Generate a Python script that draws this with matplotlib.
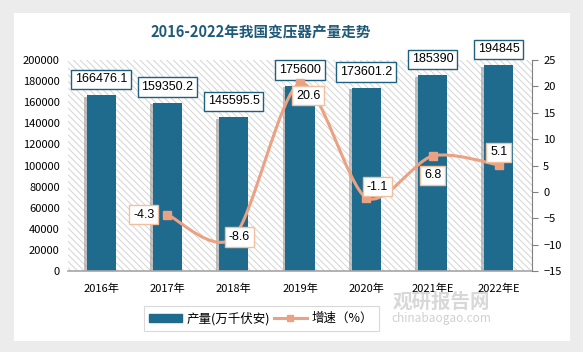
import matplotlib.pyplot as plt
import matplotlib.patheffects as pe
from matplotlib.path import Path
from matplotlib.patches import PathPatch, Rectangle
import numpy as np

plt.rcParams['font.family'] = ['Noto Sans CJK SC', 'DejaVu Sans']
plt.rcParams['hatch.linewidth'] = 0.7

years = ['2016年', '2017年', '2018年', '2019年', '2020年', '2021年E', '2022年E']
output = [166476.1, 159350.2, 145595.5, 175600, 173601.2, 185390, 194845]
output_labels = ['166476.1', '159350.2', '145595.5', '175600', '173601.2', '185390', '194845']
growth_idx = [1, 2, 3, 4, 5, 6]
growth = [-4.3, -8.6, 20.6, -1.1, 6.8, 5.1]

bar_color = '#1e6b8d'
line_color = '#eba283'

fig = plt.figure(figsize=(5.83, 3.52), dpi=100)
fig.patch.set_facecolor('#ececec')
# white card
fig.patches.append(Rectangle((14 / 583, 1 - 341 / 352), 556 / 583, 328 / 352,
                             transform=fig.transFigure, facecolor='white',
                             edgecolor='none', zorder=-5))

ax = fig.add_axes([68 / 583, 1 - 271 / 352, 464 / 583, 211 / 352])
ax.set_facecolor('white')
ax.add_patch(Rectangle((0, 0), 1, 1, transform=ax.transAxes, facecolor='none',
                       edgecolor='#d4d4d4', linewidth=0, hatch='\\\\\\\\\\', zorder=0))

x = np.arange(len(years))
bars = ax.bar(x, output, width=0.44, color=bar_color, zorder=2,
              path_effects=[pe.SimplePatchShadow(offset=(-2, -1), shadow_rgbFace='#909090', alpha=0.55),
                            pe.Normal()])
ax.set_xlim(-0.5, len(years) - 0.5)
ax.set_ylim(0, 200000)
ax.set_yticks(np.arange(0, 200001, 20000))
ax.set_xticks(x)
ax.set_xticklabels(years, fontsize=8)
ax.tick_params(axis='y', labelsize=8, length=0, pad=6)
ax.tick_params(axis='x', length=0, pad=9)
for s in ['top', 'right', 'left']:
    ax.spines[s].set_visible(False)
ax.spines['bottom'].set_color('#a6a6a6')
ax.spines['bottom'].set_linewidth(1.2)

for xi, v, lab in zip(x, output, output_labels):
    ax.annotate(lab, (xi, v), xytext=(0, 11.5), textcoords='offset points',
                ha='center', va='center', fontsize=9, family='Liberation Sans', zorder=6,
                bbox=dict(boxstyle='square,pad=0.3', fc='white', ec='#1f5f7f', lw=1.0))

ax2 = ax.twinx()
ax2.set_ylim(-15, 25)
ax2.set_yticks(np.arange(-15, 26, 5))
ax2.tick_params(axis='y', labelsize=8, length=4, color='#808080', direction='out', pad=4)
for s in ['top', 'left', 'bottom']:
    ax2.spines[s].set_visible(False)
ax2.spines['right'].set_color('#808080')

# smooth line through the points (Catmull-Rom as cubic Bezier)
px = np.array(growth_idx, dtype=float)
py = np.array(growth, dtype=float)
verts = [(px[0], py[0])]
codes = [Path.MOVETO]
n = len(px)
for i in range(n - 1):
    p0 = (px[i - 1], py[i - 1]) if i > 0 else (px[i], py[i])
    p1 = (px[i], py[i])
    p2 = (px[i + 1], py[i + 1])
    p3 = (px[i + 2], py[i + 2]) if i + 2 < n else (px[i + 1], py[i + 1])
    c1 = (p1[0] + (p2[0] - p0[0]) / 7, p1[1] + (p2[1] - p0[1]) / 7)
    c2 = (p2[0] - (p3[0] - p1[0]) / 7, p2[1] - (p3[1] - p1[1]) / 7)
    verts += [c1, c2, p2]
    codes += [Path.CURVE4] * 3
ax2.add_patch(PathPatch(Path(verts, codes), fc='none', ec=line_color, lw=2.2, zorder=3))
ax2.plot(px, py, linestyle='none', marker='s', markersize=6, color=line_color, zorder=4)

offsets = [(-17, 0), (4, 0), (6, -9), (8, 8), (0, -14), (0, 9)]
for xi, v, off in zip(px, py, offsets):
    ax2.annotate(f'{v:.1f}', (xi, v), xytext=off, textcoords='offset points',
                 ha='center', va='center', fontsize=9, family='Liberation Sans', zorder=6,
                 bbox=dict(boxstyle='square,pad=0.3', fc='white', ec='#f2c09f', lw=1.0))

fig.text(0.448, 0.908, '2016-2022年我国变压器产量走势', ha='center', va='center',
         fontsize=10.5, fontweight='bold', color='#1f5a7a')

handles = [Rectangle((0, 0), 1, 1, color=bar_color),
           plt.Line2D([], [], color=line_color, lw=2.2, marker='s', markersize=5)]
leg = fig.legend(handles, ['产量(万千伏安)', '增速（%）'], loc='center',
                 bbox_to_anchor=(0.448, 0.095), ncol=2, fontsize=9, frameon=True,
                 fancybox=False, edgecolor='#d0d0d0', handlelength=2.6, handletextpad=0.4,
                 columnspacing=0.3, borderpad=0.45)
leg.get_frame().set_linewidth(0.8)

fig.text(0.757, 0.142, '观研报告网', fontsize=14, fontweight='bold', color='#d8d8d8',
         ha='center', va='center', zorder=1)
fig.text(0.757, 0.094, 'chinabaogao.com', fontsize=8.5, color='#d0d0d0',
         ha='center', va='center', zorder=1)

plt.savefig('out.png', dpi=100, facecolor=fig.get_facecolor())
